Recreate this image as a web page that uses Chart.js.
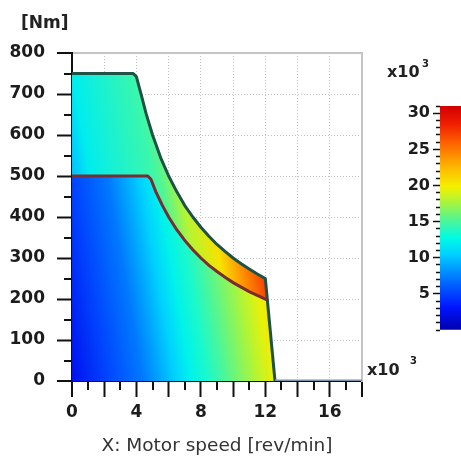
<!DOCTYPE html>
<html><head><meta charset="utf-8">
<script src="https://cdn.jsdelivr.net/npm/chart.js@4"></script>
<style>
html,body{margin:0;padding:0;background:#fff;}
#wrap{position:relative;width:461px;height:459px;overflow:hidden;}
canvas{position:absolute;left:0;top:0;}
</style></head><body>
<div id="wrap"><canvas id="main" width="461" height="459"></canvas><canvas id="cbar" width="461" height="459"></canvas></div>
<script>
// ---- data ----
const outerSpeed  = [0, 3.8, 4.0, 4.3, 4.6, 5.0, 5.5, 6.0, 6.5, 7.0, 7.5, 8.0, 8.5, 9.0, 9.5, 10.0, 10.5, 11.0, 11.5, 12.0, 12.6, 18.0];
const outerTorque = [750, 750, 742, 698, 652, 600, 545, 500, 462, 428, 400, 375, 353, 333, 316, 300, 286, 273, 261, 250, 0, 0];
const innerSpeed  = [0, 4.7, 4.9, 5.2, 5.6, 6.0, 6.5, 7.0, 7.5, 8.0, 8.5, 9.0, 9.5, 10.0, 10.5, 11.0, 11.5, 12.1, 12.6];
const innerTorque = [500, 500, 492, 462, 429, 400, 369, 343, 320, 300, 282, 267, 253, 240, 229, 218, 209, 198, 0];
const xTickLabels = [0, 4, 8, 12, 16];
const yTickLabels = [0, 100, 200, 300, 400, 500, 600, 700, 800];
const colorbarLabels = [5, 10, 15, 20, 25, 30];
const colorbarRange = [0, 31];

// ---- colour map (as on the colour bar) ----
const cmapStops = [[0,[0,0,170]],[0.10,[0,20,255]],[0.22,[0,110,255]],[0.34,[0,210,255]],[0.41,[0,250,230]],[0.50,[90,245,140]],[0.57,[170,245,60]],[0.64,[245,240,0]],[0.73,[255,180,0]],[0.82,[255,110,0]],[0.92,[240,30,0]],[1,[210,0,0]]];
function cmap(v){
  let t = (v - colorbarRange[0]) / (colorbarRange[1] - colorbarRange[0]);
  t = Math.max(0, Math.min(1, t));
  for (let i = 1; i < cmapStops.length; i++){
    const [t1, c1] = cmapStops[i], [t0, c0] = cmapStops[i-1];
    if (t <= t1){
      const f = (t - t0) / (t1 - t0);
      const c = c0.map((a, k) => Math.round(a + (c1[k] - a) * f));
      return `rgb(${c[0]},${c[1]},${c[2]})`;
    }
  }
  return 'rgb(210,0,0)';
}
// shading of the two regions (gradient direction in data units, stops as [fraction, value])
const bandShade  = {from:[0,0], to:[13.24,91], stops:[[0,8],[0.172,10],[0.247,12],[0.526,14.5],[0.567,15.3],[0.651,18],[0.767,20.5],[0.86,24],[0.953,27],[1,28]]};
const innerShade = {from:[0,0], to:[12.93,89], stops:[[0,2.5],[0.176,5.2],[0.329,7.2],[0.405,8.8],[0.481,10.5],[0.557,12.3],[0.633,13.5],[0.71,15],[0.786,16.5],[0.862,18],[0.938,19.5],[1,20.5]]};
function shade(chart, s){
  if (!chart.chartArea) return 'rgba(0,0,0,0)';
  const xs = chart.scales.x, ys = chart.scales.y;
  const g = chart.ctx.createLinearGradient(xs.getPixelForValue(s.from[0]), ys.getPixelForValue(s.from[1]), xs.getPixelForValue(s.to[0]), ys.getPixelForValue(s.to[1]));
  s.stops.forEach(([f, v]) => g.addColorStop(f, cmap(v)));
  return g;
}

const pts = (xs, ys) => xs.map((x, i) => ({x, y: ys[i]}));
const FONT = 'DejaVu Sans';

const textPlugin = {
  id: 'txt',
  afterDraw(chart){
    const ctx = chart.ctx;
    ctx.save();
    ctx.fillStyle = '#222';
    ctx.textBaseline = 'middle';
    ctx.textAlign = 'left';
    ctx.font = `bold 17px "${FONT}"`;
    ctx.fillText('[Nm]', 21, 24);
    ctx.font = `bold 16px "${FONT}"`;
    ctx.fillText('x10', 367, 371);
    ctx.font = `bold 10px "${FONT}"`;
    ctx.fillText('3', 410, 361);
    ctx.restore();
  }
};

new Chart(document.getElementById('main'), {
  type: 'line',
  data: {
    datasets: [
      { label: 'Continuous', data: pts(innerSpeed, innerTorque), order: 0,
        borderColor: '#7a2c33', borderWidth: 3, pointRadius: 0, tension: 0, fill: 'origin',
        backgroundColor: c => shade(c.chart, innerShade),
        segment: { borderColor: c => c.p0.parsed.x >= 12.05 ? 'rgba(0,0,0,0)' : '#7a2c33' } },
      { label: 'Peak', data: pts(outerSpeed, outerTorque), order: 1,
        borderColor: '#1f5246', borderWidth: 3, pointRadius: 0, tension: 0, fill: 'origin',
        borderJoinStyle: 'round',
        backgroundColor: c => shade(c.chart, bandShade),
        segment: { borderColor: c => c.p0.parsed.x >= 12.55 ? '#7d90ab' : '#1f5246' } }
    ]
  },
  options: {
    responsive: false, animation: false, devicePixelRatio: 1,
    layout: { padding: { left: 0, top: 53, right: 99, bottom: 0 } },
    plugins: { legend: { display: false }, tooltip: { enabled: false }, filler: { drawTime: 'beforeDatasetsDraw' } },
    scales: {
      x: {
        type: 'linear', min: 0, max: 18, position: 'bottom',
        ticks: { stepSize: 1, autoSkip: false, maxRotation: 0, padding: 5,
          callback: v => xTickLabels.includes(v) ? String(v) : '',
          font: { family: FONT, weight: 'bold', size: 17 }, color: '#1c1c1c' },
        grid: {
          lineWidth: c => (c.tick && c.tick.value % 2 === 0 && c.tick.value > 0 && c.tick.value < 18) ? 1 : 0,
          color: '#c2c2c2',
          tickLength: 16, tickColor: '#111', tickWidth: 2,
          tickBorderDash: c => (c.tick && c.tick.value % 2 === 0) ? [] : [8, 100]
        },
        border: { color: '#111', width: 2, dash: [1, 2] },
        title: { display: true, text: 'X: Motor speed [rev/min]', color: '#333',
          font: { family: FONT, size: 18.5 }, padding: { top: 0, bottom: 2 } },
        afterFit: s => { s.height = 78; }
      },
      x2: { type: 'linear', min: 0, max: 18, position: 'top',
        ticks: { display: false }, grid: { display: false, drawTicks: false },
        border: { color: '#c4c4c4', width: 2 } },
      y: {
        type: 'linear', min: 0, max: 800, position: 'left',
        ticks: { stepSize: 50, autoSkip: false, padding: 12,
          callback: v => yTickLabels.includes(v) ? String(v) : '',
          font: { family: FONT, weight: 'bold', size: 17 }, color: '#1c1c1c' },
        grid: {
          lineWidth: c => (c.tick && c.tick.value % 100 === 0 && c.tick.value > 0 && c.tick.value < 800) ? 1 : 0,
          color: '#c2c2c2',
          tickLength: 15, tickColor: '#111', tickWidth: 2,
          tickBorderDash: c => (c.tick && c.tick.value % 100 === 0) ? [] : [0, 7, 10, 100]
        },
        border: { color: '#111', width: 2, dash: [1, 2] },
        afterFit: s => { s.width = 72; }
      },
      y2: { type: 'linear', min: 0, max: 800, position: 'right',
        ticks: { display: false }, grid: { display: false, drawTicks: false },
        border: { color: '#c4c4c4', width: 2 } }
    }
  },
  plugins: [textPlugin]
});

// ---- colour bar ----
const cbText = {
  id: 'cbtxt',
  afterDraw(chart){
    const ctx = chart.ctx;
    ctx.save();
    ctx.fillStyle = '#222';
    ctx.textBaseline = 'middle';
    ctx.font = `bold 16px "${FONT}"`;
    ctx.fillText('x10', 387, 73);
    ctx.font = `bold 10px "${FONT}"`;
    ctx.fillText('3', 422, 64);
    ctx.restore();
  }
};
new Chart(document.getElementById('cbar'), {
  type: 'bar',
  data: { labels: [''], datasets: [{ data: [colorbarRange], borderWidth: 0, barPercentage: 1, categoryPercentage: 1,
    backgroundColor: c => {
      const ch = c.chart; if (!ch.chartArea) return 'rgba(0,0,0,0)';
      const ys = ch.scales.y;
      const g = ch.ctx.createLinearGradient(0, ys.getPixelForValue(colorbarRange[0]), 0, ys.getPixelForValue(colorbarRange[1]));
      cmapStops.forEach(([t, col]) => g.addColorStop(t, `rgb(${col[0]},${col[1]},${col[2]})`));
      return g;
    } }] },
  options: {
    responsive: false, animation: false, devicePixelRatio: 1,
    layout: { padding: { left: 396, top: 106, right: 0, bottom: 129 } },
    plugins: { legend: { display: false }, tooltip: { enabled: false } },
    scales: {
      x: { display: false },
      y: { min: colorbarRange[0], max: colorbarRange[1], position: 'left',
        ticks: { stepSize: 1, autoSkip: false, padding: 3,
          callback: v => colorbarLabels.includes(v) ? String(v) : '',
          font: { family: FONT, weight: 'bold', size: 16 }, color: '#1c1c1c' },
        grid: { drawOnChartArea: false, tickLength: 7, tickColor: '#111', tickWidth: 1.5,
          tickBorderDash: c => (c.tick && colorbarLabels.includes(c.tick.value)) ? [] : [0, 3, 5, 100] },
        border: { display: false },
        afterFit: s => { s.width = 44; } }
    }
  },
  plugins: [cbText]
});
</script>
</body></html>
